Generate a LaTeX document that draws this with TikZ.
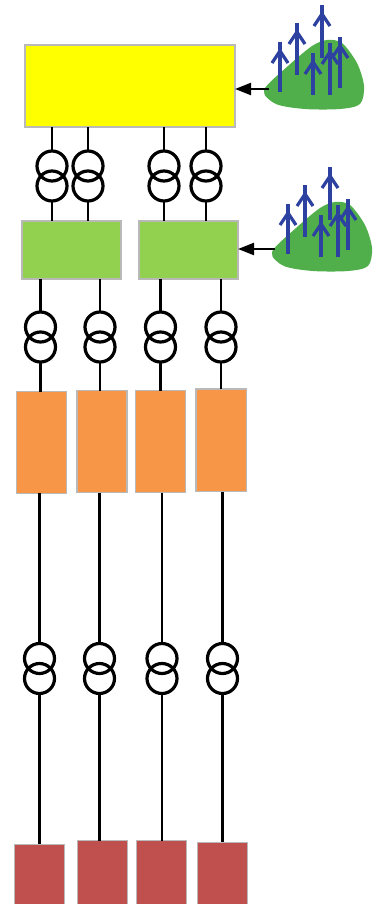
\documentclass[tikz,border=0pt]{standalone}
\usetikzlibrary{arrows.meta,fit}
\definecolor{busyellow}{RGB}{255,255,0}
\definecolor{stagegreen}{RGB}{146,208,80}
\definecolor{convorange}{RGB}{247,150,70}
\definecolor{unitred}{RGB}{192,80,77}
\definecolor{hillgreen}{RGB}{80,175,75}
\definecolor{bladeblue}{RGB}{45,65,160}
\definecolor{edgegray}{RGB}{185,185,185}
\begin{document}
\begin{tikzpicture}[x=0.75pt,y=-0.75pt,
  box/.style={draw=edgegray,line width=0.8pt,inner sep=0pt,outer sep=0pt},
  coil/.style={circle,draw=black,line width=2.4pt,inner sep=0pt,outer sep=0pt,minimum size=22.5pt},
  wire/.style={line width=1.7pt},
  feed/.style={line width=1.6pt,-{Triangle[length=12pt,width=9pt]}},
  blade/.style={draw=bladeblue,line width=2.4pt},
  windfarm/.pic={
    \fill[hillgreen] plot[smooth cycle] coordinates
      {(264,90) (288,66) (312,46) (327,40) (342,43) (357,63) (364,86) (360,104) (340,109) (305,109) (276,104)};
    \foreach \x/\t/\b in {280/42/92, 297/23/75, 322/5/58, 313/53/95, 330/43/95, 340/37/88} {
      \draw[blade] (\x,\b) -- (\x,\t);
      \draw[blade] (\x-8,\t+21) -- (\x,\t+9) -- (\x+8,\t+21);
    }
  }
]
\useasboundingbox (0,0) rectangle (378,904);
\clip (0,0) rectangle (378,904);

% main busbar and the two intermediate stages
\node[box,fill=busyellow,fit={(25,45)(235,127)}] (Y) {};
\node[box,fill=stagegreen,fit={(22,221)(121,279)}] (GL) {};
\node[box,fill=stagegreen,fit={(139,221)(238,279)}] (GR) {};

% converter stage
\node[box,fill=convorange,fit={(16.7,391.7)(66.7,493.3)}] (O1) {};
\node[box,fill=convorange,fit={(77,390.7)(127,492.7)}] (O2) {};
\node[box,fill=convorange,fit={(135.7,390.7)(185.7,492.7)}] (O3) {};
\node[box,fill=convorange,fit={(196,389)(246.7,491.7)}] (O4) {};

% end units, running past the lower edge
\node[box,fill=unitred,fit={(14.3,844.3)(64.3,910)}] (R1) {};
\node[box,fill=unitred,fit={(77.3,840.7)(127.3,910)}] (R2) {};
\node[box,fill=unitred,fit={(136.7,840.7)(186.7,910)}] (R3) {};
\node[box,fill=unitred,fit={(197.3,842.3)(247.3,910)}] (R4) {};

% transformers between busbar and intermediate stages
\foreach \n/\x/\dn in {1/52/GL, 2/88/GL, 3/164/GR, 4/206/GR} {
  \node[coil] (ta\n) at (\x,166) {};
  \node[coil] (tb\n) at (\x,186) {};
  \draw[wire] (Y.south -| ta\n) -- (ta\n.north);
  \draw[wire] (tb\n.south) -- (tb\n.south |- \dn.north);
}

% transformers between intermediate stages and converters
\foreach \n/\x/\up/\dn in {1/40.5/GL/O1, 2/100/GL/O2, 3/160.5/GR/O3, 4/221/GR/O4} {
  \node[coil] (ua\n) at (\x,327) {};
  \node[coil] (ub\n) at (\x,347) {};
  \draw[wire] (\up.south -| ua\n) -- (ua\n.north);
  \draw[wire] (ub\n.south) -- (ub\n.south |- \dn.north);
}

% transformers between converters and end units
\foreach \n/\x in {1/39.5, 2/99.5, 3/162, 4/222.5} {
  \node[coil] (va\n) at (\x,658.5) {};
  \node[coil] (vb\n) at (\x,678.5) {};
  \draw[wire] (O\n.south -| va\n) -- (va\n.north);
  \draw[wire] (vb\n.south) -- (vb\n.south |- R\n.north);
}

% wind farms feeding in from the right
\pic at (0,0) {windfarm};
\pic at (8,162) {windfarm};
\coordinate (srcA) at (269,89);
\coordinate (srcB) at (275,249);
\draw[feed] (srcA) -- (srcA -| Y.east);
\draw[feed] (srcB) -- (srcB -| GR.east);
\end{tikzpicture}
\end{document}
